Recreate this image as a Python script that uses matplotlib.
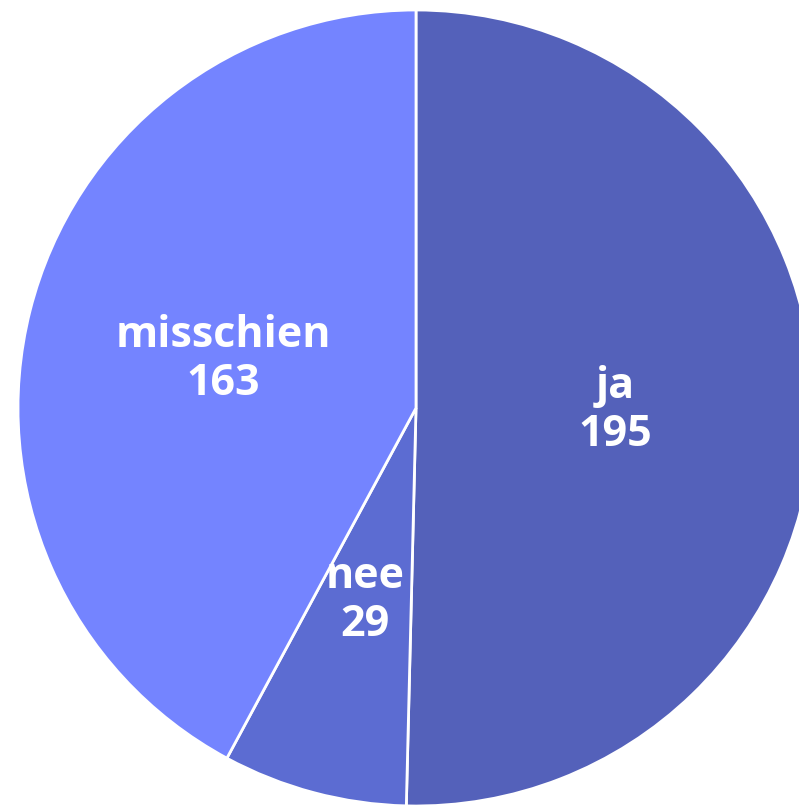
import matplotlib.pyplot as plt

# Answers and counts
labels = ['ja', 'nee', 'misschien']
counts = [195, 29, 163]
colors = ['#5461BA', '#5C6CD2', '#7484FF']

fig = plt.figure(figsize=(7.99, 8.05), dpi=100)
ax = fig.add_axes([0, 0, 1, 1])

texts = [f'{name}\n{n}' for name, n in zip(labels, counts)]
ax.pie(counts, labels=texts, colors=colors, startangle=90, counterclock=False,
       labeldistance=0.5, radius=1.0,
       wedgeprops={'edgecolor': 'white', 'linewidth': 2},
       textprops={'color': 'white', 'fontsize': 31, 'fontweight': 'bold',
                  'family': 'Open Sans', 'ha': 'center', 'va': 'center',
                  'linespacing': 1.15})

# pie is larger than the canvas, cut off on the right and bottom
ax.set_xlim(-416 / 398, 383 / 398)
ax.set_ylim(-397 / 398, 408 / 398)
ax.set_aspect('equal')
ax.axis('off')

fig.savefig('out.png', dpi=100)
